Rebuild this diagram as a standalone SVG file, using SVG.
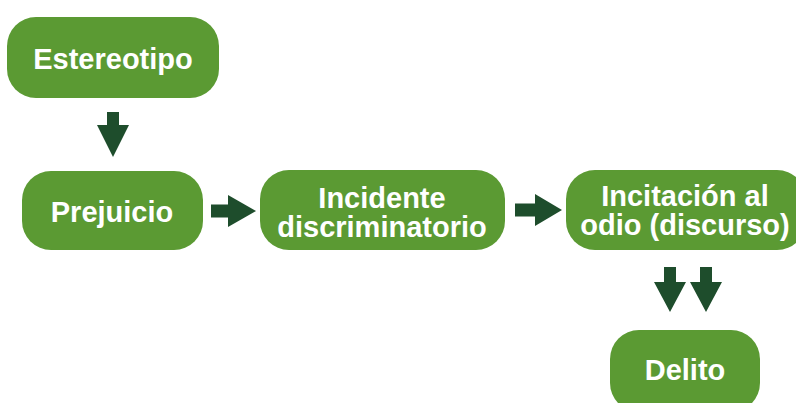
<svg xmlns="http://www.w3.org/2000/svg" width="796" height="403" viewBox="0 0 796 403">
<style>
.box{fill:#5b9a33;}
.lbl{fill:#ffffff;font-family:"Liberation Sans",sans-serif;font-weight:bold;font-size:29px;text-anchor:middle;}
.arr{fill:#1e4d2c;}
</style>
<rect width="796" height="403" fill="#ffffff"/>
<g id="connectors">
<path class="arr" d="M107,112 H119 V125 H129 L113,157 L97,125 H107 Z"/>
<path class="arr" d="M211,204.5 H228 V195 L256,211 L228,227 V217.5 H211 Z"/>
<path class="arr" d="M515,203.5 H535 V194 L562,210 L535,226 V216.5 H515 Z"/>
<path class="arr" d="M664,267 H676 V282 H686 L670,312 L654,282 H664 Z"/>
<path class="arr" d="M700,267 H712 V282 H722 L706,312 L690,282 H700 Z"/>
</g>
<g id="n-estereotipo">
<rect class="box" x="7" y="17" width="212" height="81" rx="29"/>
<text class="lbl" x="113" y="69">Estereotipo</text>
</g>
<g id="n-prejuicio">
<rect class="box" x="22" y="171" width="181" height="79" rx="29"/>
<text class="lbl" x="112" y="222">Prejuicio</text>
</g>
<g id="n-incidente">
<rect class="box" x="260" y="170" width="245" height="80" rx="29"/>
<text class="lbl" x="382" y="208">Incidente</text>
<text class="lbl" x="382" y="237">discriminatorio</text>
</g>
<g id="n-incitacion">
<rect class="box" x="566" y="170" width="240" height="80" rx="29"/>
<text class="lbl" x="685" y="206">Incitación al</text>
<text class="lbl" x="685" y="235">odio (discurso)</text>
</g>
<g id="n-delito">
<rect class="box" x="610" y="330" width="150" height="82" rx="29"/>
<text class="lbl" x="685" y="380">Delito</text>
</g>
</svg>
